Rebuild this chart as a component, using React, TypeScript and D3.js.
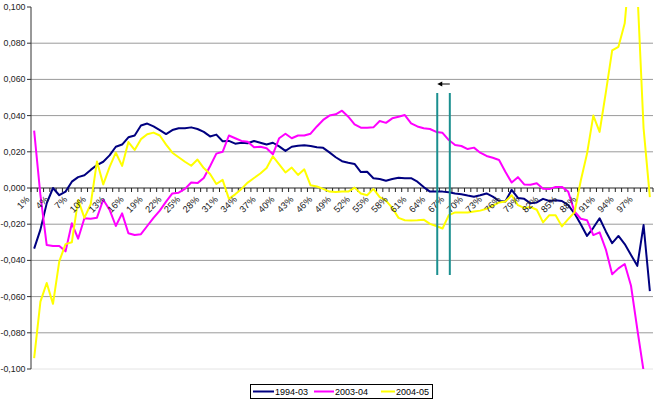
import React from "react";
import * as d3 from "d3";

const categories: string[] = d3.range(1, 100).map((d) => `${d}%`);

const series1994_03: number[] = [
  -0.0335, -0.023, -0.0085, 0.0, -0.004, -0.002, 0.0035, 0.006, 0.007, 0.01,
  0.0127, 0.0145, 0.018, 0.0228, 0.024, 0.028, 0.029, 0.0345, 0.0356, 0.034,
  0.032, 0.0298, 0.032, 0.033, 0.033, 0.0335, 0.0326, 0.031, 0.0285, 0.0295,
  0.0258, 0.026, 0.0245, 0.025, 0.0247, 0.026, 0.025, 0.024, 0.025, 0.023,
  0.0205, 0.0228, 0.0234, 0.0236, 0.0232, 0.0225, 0.0222, 0.0197, 0.017, 0.0148,
  0.014, 0.0133, 0.0088, 0.009, 0.0054, 0.005, 0.004, 0.005, 0.0057, 0.0054,
  0.0054, 0.0035, 0.0005, -0.002, -0.002, -0.002, -0.0024, -0.003, -0.0035, -0.0042,
  -0.0048, -0.004, -0.003, -0.0048, -0.0072, -0.0075, -0.001, -0.0055, -0.006, -0.0085,
  -0.008, -0.006, -0.0072, -0.0068, -0.0072, -0.0095, -0.014, -0.02, -0.0265, -0.022,
  -0.0167, -0.024, -0.0305, -0.0265, -0.031, -0.037, -0.043, -0.0205, -0.057,
];

const series2003_04: number[] = [
  0.0317, -0.004, -0.0315, -0.032, -0.032, -0.035, -0.0195, -0.028, -0.0167, -0.017,
  -0.0164, -0.0065, -0.012, -0.021, -0.014, -0.025, -0.026, -0.0255, -0.021, -0.0165,
  -0.0125, -0.0075, -0.003, -0.0026, -0.0005, 0.003, 0.0027, 0.0055, 0.012, 0.019,
  0.02, 0.029, 0.0275, 0.026, 0.0256, 0.0225, 0.0228, 0.022, 0.0186, 0.0275,
  0.03, 0.0275, 0.029, 0.029, 0.03, 0.034, 0.0376, 0.04, 0.0407, 0.0427,
  0.0394, 0.0352, 0.0333, 0.0333, 0.0335, 0.037, 0.036, 0.0385, 0.0394, 0.0403,
  0.0357, 0.034, 0.033, 0.0326, 0.031, 0.0305, 0.0265, 0.0238, 0.0232, 0.0215,
  0.0223, 0.0195, 0.0177, 0.0167, 0.0155, 0.009, 0.003, 0.006, 0.002, 0.0018,
  0.0026, -0.0004, -0.0006, 0.0006, 0.0006, -0.002, -0.013, -0.017, -0.0178, -0.026,
  -0.0245, -0.034, -0.0477, -0.0444, -0.042, -0.054, -0.078, -0.101, -0.14,
];

const series2004_05: number[] = [
  -0.094, -0.0628, -0.0525, -0.064, -0.0405, -0.031, -0.03, -0.0066, -0.0165, -0.009,
  0.0147, 0.002, 0.0115, 0.0195, 0.0122, 0.0254, 0.021, 0.027, 0.0297, 0.0306,
  0.029, 0.024, 0.0195, 0.017, 0.0145, 0.0123, 0.0157, 0.011, 0.0077, 0.0022,
  0.0045, -0.006, -0.0035, -0.0005, 0.003, 0.0055, 0.008, 0.011, 0.0175, 0.013,
  0.0086, 0.0113, 0.0072, 0.0103, 0.0015, 0.0008, -0.0005, -0.002, -0.0022, -0.002,
  -0.002, 0.0002, -0.003, -0.004, -0.0005, -0.005, -0.007, -0.011, -0.0165, -0.0178,
  -0.018, -0.0178, -0.0175, -0.0198, -0.021, -0.0224, -0.015, -0.0135, -0.0135, -0.0135,
  -0.013, -0.0125, -0.0115, -0.0098, -0.008, -0.0075, -0.004, -0.0095, -0.011, -0.0105,
  -0.012, -0.019, -0.015, -0.015, -0.0212, -0.0172, -0.0135, 0.004, 0.019, 0.04,
  0.031, 0.053, 0.076, 0.078, 0.091, 0.13, 0.11, 0.033, -0.005,
];

const seriesNames: string[] = ["1994-03", "2003-04", "2004-05"];
const seriesColors: string[] = ["#000080", "#FF00FF", "#FFFF00"];
const yTicks: number[] = [-0.1, -0.08, -0.06, -0.04, -0.02, 0, 0.02, 0.04, 0.06, 0.08, 0.1];
const markerCategories: string[] = ["65%", "67%"];

const W = 660;
const H = 400;
const left = 31;
const right = 653;
const top = 7;
const bottom = 369;
const FONT = "'Liberation Sans', Arial, sans-serif";

const locale = d3.formatLocale({
  decimal: ",",
  thousands: ".",
  grouping: [3],
  currency: ["", ""],
  minus: "-",
});
const fmt = locale.format(".3f");

export default function App() {
  const x = d3.scaleBand<string>().domain(categories).range([left, right]).paddingInner(0).paddingOuter(0);
  const bw = x.bandwidth();
  const cx = (c: string) => (x(c) as number) + bw / 2;
  const y = d3.scaleLinear().domain([-0.1, 0.1]).range([bottom, top]);

  const allSeries = [series1994_03, series2003_04, series2004_05];
  const line = d3
    .line<number>()
    .x((_, i) => cx(categories[i]))
    .y((d) => y(d));

  const y0 = y(0);
  const labelCats = categories.filter((_, i) => i % 3 === 0);

  const mx1 = cx(markerCategories[0]) + 1;
  const mx2 = cx(markerCategories[1]) + 1;
  const ay = 84;

  const legendItems = [
    { lx1: 253, lx2: 274, tx: 275 },
    { lx1: 314, lx2: 334, tx: 335 },
    { lx1: 381, lx2: 395, tx: 396 },
  ];

  return (
    <svg
      width={W}
      height={H}
      style={{ position: "absolute", left: 0, top: 0, background: "#fff" }}
      fontFamily={FONT}
    >
      <defs>
        <clipPath id="plotclip">
          <rect x={left} y={top} width={right - left} height={bottom - top} />
        </clipPath>
      </defs>

      {/* gridlines */}
      {yTicks
        .filter((t) => t !== 0 && Math.abs(t) < 0.1)
        .map((t) => (
          <line key={`g${t}`} x1={left} x2={right} y1={y(t)} y2={y(t)} stroke="#9a9a9a" strokeWidth={1} />
        ))}
      <line x1={left} x2={right} y1={bottom} y2={bottom} stroke="#e4e4e4" strokeWidth={1} />

      {/* y axis */}
      <line x1={left} x2={left} y1={top} y2={bottom} stroke="#333" strokeWidth={1} />
      {yTicks.map((t) => (
        <g key={`yt${t}`}>
          <line x1={left - 4} x2={left} y1={y(t)} y2={y(t)} stroke="#333" />
          <text x={25.5} y={y(t)} dy="0.35em" textAnchor="end" fontSize={8.8} fill="#222">
            {fmt(t)}
          </text>
        </g>
      ))}

      {/* x axis at zero */}
      <line x1={left} x2={right} y1={y0} y2={y0} stroke="#222" strokeWidth={1} />
      {categories.map((c) => (
        <line key={`xt${c}`} x1={x(c) as number} x2={x(c) as number} y1={y0} y2={y0 + 4} stroke="#222" />
      ))}
      <line x1={right} x2={right} y1={y0} y2={y0 + 4} stroke="#222" />

      {/* series */}
      <g clipPath="url(#plotclip)">
        {allSeries.map((s, k) => (
          <path key={seriesNames[k]} d={line(s) || ""} fill="none" stroke={seriesColors[k]} strokeWidth={2} strokeLinejoin="round" />
        ))}
      </g>

      {/* x labels */}
      {labelCats.map((c) => (
        <text
          key={`xl${c}`}
          transform={`translate(${cx(c) - 4},${y0 + 12}) rotate(-45)`}
          textAnchor="end"
          fontSize={9.3}
          fill="#222"
        >
          {c}
        </text>
      ))}

      {/* teal marker lines */}
      <line x1={mx1} x2={mx1} y1={93} y2={275} stroke="#1a8f8f" strokeWidth={2} />
      <line x1={mx2} x2={mx2} y1={93} y2={275} stroke="#1a8f8f" strokeWidth={2} />
      <line x1={mx1 + 4} x2={mx2} y1={ay} y2={ay} stroke="#000" strokeWidth={1} />
      <path d={`M${mx1},${ay} L${mx1 + 5},${ay - 2.5} L${mx1 + 5},${ay + 2.5} Z`} fill="#000" />

      {/* legend */}
      <rect x={250.5} y={384.5} width={182} height={14} fill="#fff" stroke="#000" strokeWidth={1} />
      {seriesNames.map((n, k) => {
        const it = legendItems[k];
        return (
          <g key={`lg${n}`}>
            <line x1={it.lx1} x2={it.lx2} y1={391.5} y2={391.5} stroke={seriesColors[k]} strokeWidth={2} />
            <text x={it.tx} y={391.5} dy="0.35em" fontSize={9} fill="#000">
              {n}
            </text>
          </g>
        );
      })}
    </svg>
  );
}
